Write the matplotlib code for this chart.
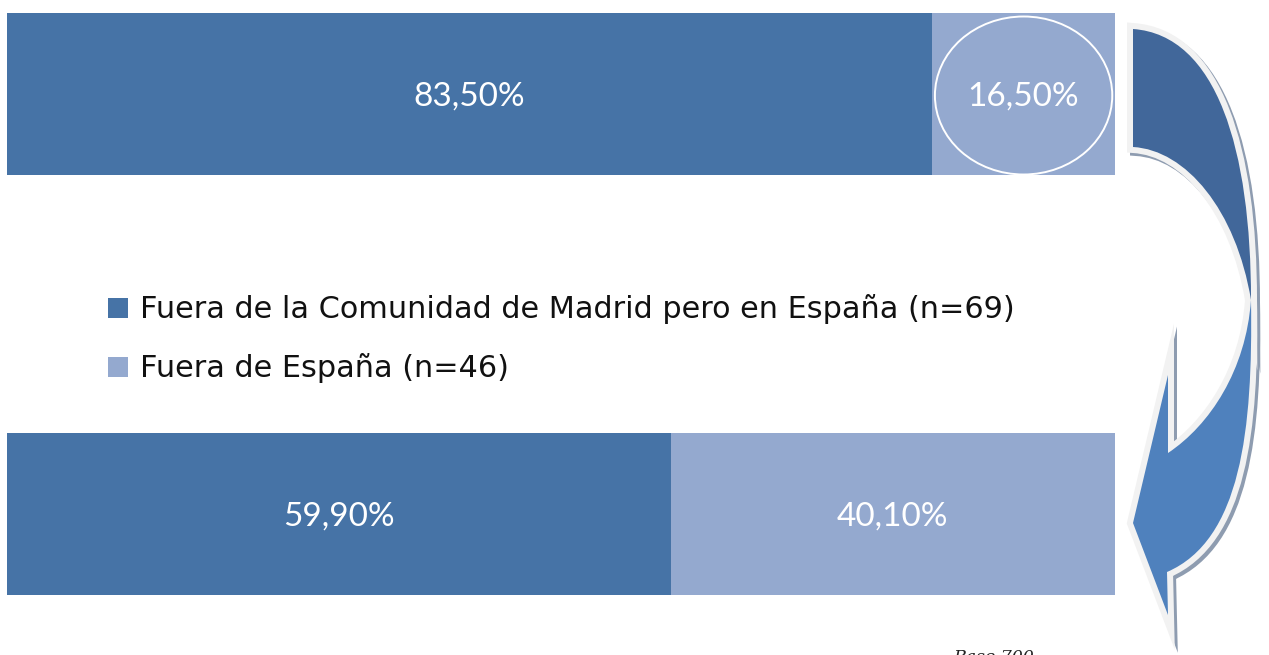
import matplotlib
matplotlib.use('Agg')
import matplotlib.pyplot as plt
from matplotlib.patches import Ellipse, PathPatch, Rectangle
from matplotlib.path import Path

# ---- data ----
rows = ['Fila superior', 'Fila inferior']
series_names = ['Fuera de la Comunidad de Madrid pero en España (n=69)',
                'Fuera de España (n=46)']
madrid_pct = [83.5, 59.9]
outside_pct = [16.5, 40.1]
madrid_labels = ['83,50%', '59,90%']
outside_labels = ['16,50%', '40,10%']

dark = '#4673a6'
light = '#94a9cf'
LABEL_FONT = 'Lato'
LEGEND_FONT = 'DejaVu Sans'

W, H = 1269, 655
PX = 72 / 100  # points per pixel
fig = plt.figure(figsize=(W / 100, H / 100), dpi=100)
fig.patch.set_facecolor('white')

# bar axes (x in percent, y in pixel rows)
ax = fig.add_axes([7 / W, 0, 1108 / W, 1])
ax.set_xlim(0, 100)
ax.set_ylim(H, 0)
ax.axis('off')

y_centers = [93.5, 514]
bar_h = 162
ax.barh(y_centers, madrid_pct, height=bar_h, color=dark, linewidth=0)
ax.barh(y_centers, outside_pct, left=madrid_pct, height=bar_h, color=light, linewidth=0)

for yc, m, o, ml, ol in zip(y_centers, madrid_pct, outside_pct, madrid_labels, outside_labels):
    ax.text(m / 2, yc + 3, ml, color='white', fontsize=24, family=LABEL_FONT,
            ha='center', va='center')
    ax.text(m + o / 2, yc + 3, ol, color='white', fontsize=24, family=LABEL_FONT,
            ha='center', va='center')

# ellipse highlight around the top "outside" value
ax.add_patch(Ellipse((madrid_pct[0] + outside_pct[0] / 2, y_centers[0] + 2),
                     width=outside_pct[0] * 0.97, height=158,
                     fill=False, edgecolor='white', linewidth=1.4))

# overlay axes in pixel coordinates for legend and arrow
ov = fig.add_axes([0, 0, 1, 1])
ov.set_xlim(0, W)
ov.set_ylim(H, 0)
ov.axis('off')

# legend
for yc, name, col in zip([308, 367], series_names, [dark, light]):
    ov.add_patch(Rectangle((108, yc - 10), 20, 20, facecolor=col, edgecolor='none'))
    ov.text(140, yc + 1, name, fontsize=21.8, family=LEGEND_FONT, color='#111111',
            ha='left', va='center')

# curved arrow (two joined segments)
top_verts = [(1133, 29),
             (1217, 35), (1251, 150), (1251, 300),
             (1236, 210), (1186, 150), (1133, 147),
             (1133, 29)]
top_codes = [Path.MOVETO, Path.CURVE4, Path.CURVE4, Path.CURVE4,
             Path.CURVE4, Path.CURVE4, Path.CURVE4, Path.CLOSEPOLY]
bot_verts = [(1251, 300),
             (1253, 430), (1241, 540), (1167, 572),
             (1168, 615), (1133, 523), (1168, 375), (1168, 453),
             (1210, 425), (1246, 370), (1251, 300),
             (1251, 300)]
bot_codes = [Path.MOVETO, Path.CURVE4, Path.CURVE4, Path.CURVE4,
             Path.LINETO, Path.LINETO, Path.LINETO, Path.LINETO,
             Path.CURVE4, Path.CURVE4, Path.CURVE4, Path.CLOSEPOLY]
parts = [(top_verts, top_codes, '#41679a'), (bot_verts, bot_codes, '#4f81bd')]

stroke_w = 12 * PX
for verts, codes, col in parts:
    sh = [(x + 3, y + 3) for x, y in verts]
    ov.add_patch(PathPatch(Path(sh, codes), facecolor='#8e9cb0',
                           edgecolor='#8e9cb0', linewidth=stroke_w, joinstyle='miter'))
for verts, codes, col in parts:
    ov.add_patch(PathPatch(Path(verts, codes), facecolor='#f2f2f2',
                           edgecolor='#f2f2f2', linewidth=stroke_w, joinstyle='miter'))
for verts, codes, col in parts:
    ov.add_patch(PathPatch(Path(verts, codes), facecolor=col,
                           edgecolor='none', linewidth=0))

# partially visible base note at the bottom edge
ov.text(953, 649, 'Base 700', fontsize=12.5, family='DejaVu Serif', style='italic',
        color='#222222', ha='left', va='top')

fig.savefig('out.png', dpi=100, facecolor='white')
